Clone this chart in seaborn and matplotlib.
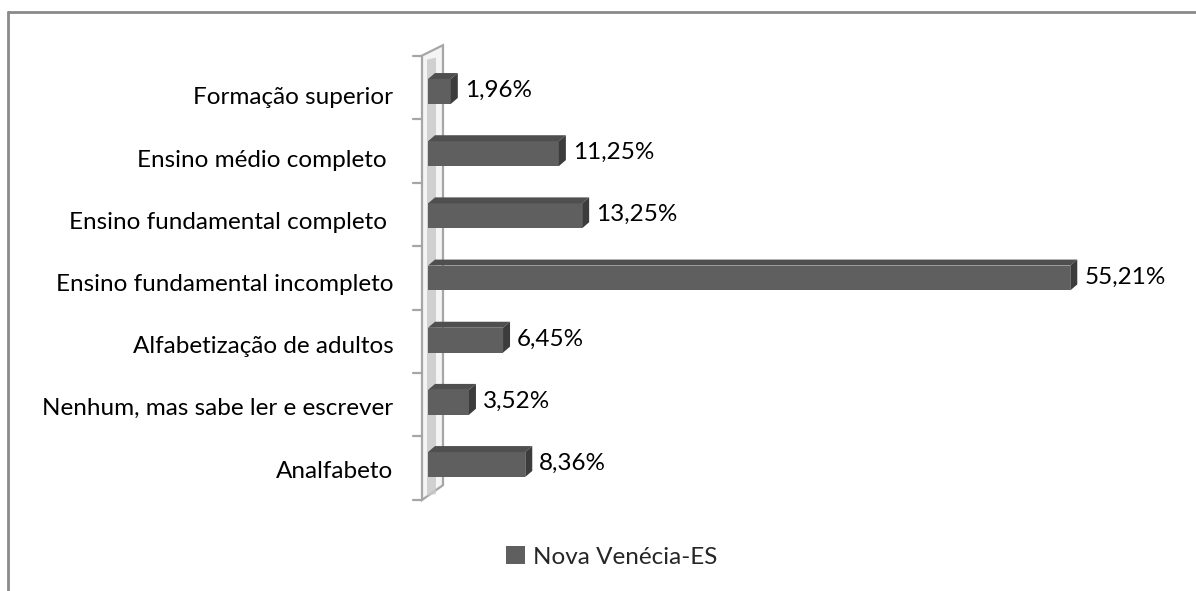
import numpy as np
import pandas as pd
import matplotlib
matplotlib.use("Agg")
import matplotlib.pyplot as plt
import matplotlib.transforms as mtransforms
from matplotlib.patches import Polygon, Rectangle
from matplotlib.lines import Line2D
import seaborn as sns

categories = [
    "Formação superior",
    "Ensino médio completo ",
    "Ensino fundamental completo ",
    "Ensino fundamental incompleto",
    "Alfabetização de adultos",
    "Nenhum, mas sabe ler e escrever",
    "Analfabeto",
]
values = [1.96, 11.25, 13.25, 55.21, 6.45, 3.52, 8.36]
value_labels = ["1,96%", "11,25%", "13,25%", "55,21%", "6,45%", "3,52%", "8,36%"]
series_name = "Nova Venécia-ES"

sns.set_theme(style="white")
plt.rcParams["font.family"] = ["Lato", "DejaVu Sans"]
FS = 17.5

W, H = 1196, 591
fig = plt.figure(figsize=(W / 100, H / 100), dpi=100)
ax = fig.add_axes([428 / W, 1 - 495.6 / H, (1126 - 428) / W, 435.2 / H])

df = pd.DataFrame({"cat": categories, "val": values})
sns.barplot(data=df, x="val", y="cat", orient="h", color="#5f5f5f",
            saturation=1, width=0.4, ax=ax, zorder=3, edgecolor="none")

ax.set_xlim(0, 60)
ax.set_ylim(len(categories) - 0.5, -0.5)
for s in ax.spines.values():
    s.set_visible(False)
ax.set_xticks([])
ax.set_xlabel("")
ax.set_ylabel("")

IDT = mtransforms.IdentityTransform()

def px(dx, dy):
    return mtransforms.ScaledTranslation(dx / 100, dy / 100, fig.dpi_scale_trans)

def add_poly(pts, **kw):
    ax.add_patch(Polygon(pts, closed=True, transform=IDT, clip_on=False, **kw))

# 3D faces of bars
dx, dy = 7, 6
for p in list(ax.patches):
    x0, y0 = p.get_x(), p.get_y()
    w, h = p.get_width(), p.get_height()
    top_y = min(y0, y0 + h)
    bot_y = max(y0, y0 + h)
    a = ax.transData.transform((x0, top_y))
    b = ax.transData.transform((x0 + w, top_y))
    c = ax.transData.transform((x0 + w, bot_y))
    add_poly([a, b, b + [dx, dy], a + [dx, dy]], facecolor="#4f4f4f",
             edgecolor="none", zorder=4)
    add_poly([b, c, c + [dx, dy], b + [dx, dy]], facecolor="#3c3c3c",
             edgecolor="none", zorder=4)

# value labels
for i, (v, lab) in enumerate(zip(values, value_labels)):
    ax.text(v, i, lab, transform=ax.transData + px(14, 1), ha="left", va="center",
            fontsize=FS, color="#000000")

# wall (side plane)
bt = mtransforms.blended_transform_factory(ax.transData, ax.transAxes)
f0 = bt.transform((0, -0.010))
f1 = bt.transform((0, 1.011))
b0 = bt.transform((0, 0.024))
b1 = bt.transform((0, 1.035))
add_poly([f0 + [-6, 0], f1 + [-6, 0], b1 + [15, 0], b0 + [15, 0]],
         facecolor="#f4f4f4", edgecolor="#a6a6a6", linewidth=1.6, zorder=1)
add_poly([f0 + [-1, 4], f1 + [-1, -4], f1 + [8, -2], f0 + [8, 6]],
         facecolor="#c8c8c8", edgecolor="none", zorder=1.5, alpha=0.8)
# ticks
for yb in np.linspace(-0.010, 1.011, len(categories) + 1):
    p0 = bt.transform((0, yb))
    ax.add_line(Line2D([p0[0] - 15, p0[0] - 6], [p0[1], p0[1]], transform=IDT,
                       clip_on=False, color="#a6a6a6", linewidth=1.6, zorder=1))

# category labels
ax.set_yticks(range(len(categories)))
ax.set_yticklabels(categories, fontsize=FS, color="#000000")
ax.tick_params(axis="y", length=0, pad=25)
for lab in ax.get_yticklabels():
    lab.set_transform(lab.get_transform() + px(0, -4.5))

# legend
handle = Rectangle((0, 0), 1, 1, facecolor="#5f5f5f", edgecolor="none")
fig.legend([handle], [series_name], loc="center", bbox_to_anchor=(612 / W, 1 - 557 / H),
           frameon=False, fontsize=FS, handlelength=0.75, handleheight=0.75,
           handletextpad=0.35)

# outer border
fig.add_artist(Line2D([8 / W, 1], [1 - 12 / H, 1 - 12 / H], transform=fig.transFigure,
                      color="#8a8a8a", linewidth=2))
fig.add_artist(Line2D([8 / W, 8 / W], [0, 1 - 12 / H], transform=fig.transFigure,
                      color="#8a8a8a", linewidth=2))

fig.savefig("out.png", dpi=100, facecolor="white")
